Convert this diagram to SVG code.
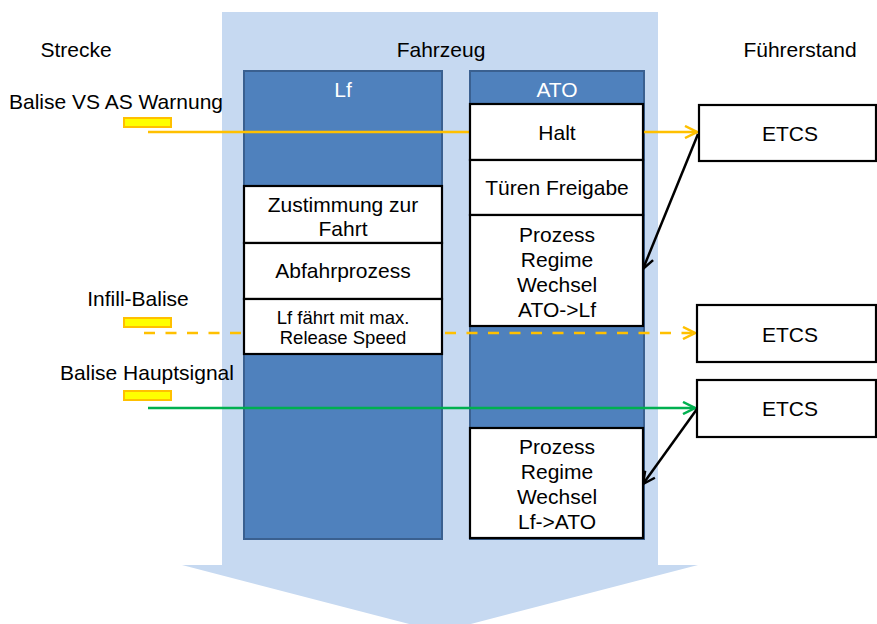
<svg xmlns="http://www.w3.org/2000/svg" width="877" height="624" viewBox="0 0 877 624">
<style>
text{font-family:"Liberation Sans",Arial,sans-serif;font-size:21px;fill:#000}
.c{text-anchor:middle}
.w{fill:#fff}
.s{font-size:18.5px}
.col{fill:#4F81BD;stroke:#3A6090;stroke-width:2}
.box{fill:#fff;stroke:#000;stroke-width:2.2}
.bal{fill:#FFFF00;stroke:#FFC000;stroke-width:2}
.or{stroke:#FFC000;stroke-width:2.5;fill:none}
.gr{stroke:#00B050;stroke-width:2.5;fill:none}
.bk{stroke:#000;stroke-width:2.5;fill:none}
</style>
<defs>
<marker id="ao" viewBox="0 0 14 14" refX="13" refY="7" markerWidth="14" markerHeight="14" markerUnits="userSpaceOnUse" orient="auto"><path d="M1,1 L13,7 L1,13" fill="none" stroke="#FFC000" stroke-width="2.5"/></marker>
<marker id="ag" viewBox="0 0 14 14" refX="13" refY="7" markerWidth="14" markerHeight="14" markerUnits="userSpaceOnUse" orient="auto"><path d="M1,1 L13,7 L1,13" fill="none" stroke="#00B050" stroke-width="2.5"/></marker>
<marker id="ab" viewBox="0 0 14 14" refX="13" refY="7" markerWidth="14" markerHeight="14" markerUnits="userSpaceOnUse" orient="auto"><path d="M1,1 L13,7 L1,13" fill="none" stroke="#000" stroke-width="2.5"/></marker>
</defs>
<g id="background">
<path d="M222,12 H658 V565 H698 L440,632 L182,565 H222 Z" fill="#C6D9F1"/>
</g>
<g id="labels">
<text x="76" y="57" class="c">Strecke</text>
<text x="441" y="57" class="c">Fahrzeug</text>
<text x="800" y="57" class="c">Führerstand</text>
<text x="116" y="109" class="c">Balise VS AS Warnung</text>
<text x="138" y="306" class="c">Infill-Balise</text>
<text x="147" y="380" class="c">Balise Hauptsignal</text>
</g>
<g id="balises">
<rect class="bal" x="124" y="118" width="47" height="9"/>
<rect class="bal" x="124" y="318" width="47" height="9"/>
<rect class="bal" x="124" y="391" width="47" height="9"/>
</g>
<g id="col-lf">
<rect class="col" x="244" y="71" width="198" height="468"/>
<text x="343" y="97" class="c w">Lf</text>
</g>
<g id="col-ato">
<rect class="col" x="470" y="71" width="174" height="468"/>
<text x="557" y="97" class="c w">ATO</text>
</g>
<g id="connectors">
<line class="or" x1="148" y1="132" x2="697" y2="132" marker-end="url(#ao)"/>
<line class="or" x1="144" y1="333" x2="695" y2="333" stroke-dasharray="11,10.5" marker-end="url(#ao)"/>
<line class="gr" x1="148" y1="408" x2="695" y2="408" marker-end="url(#ag)"/>
<line class="bk" x1="698" y1="134" x2="643" y2="269" marker-end="url(#ab)"/>
<line class="bk" x1="697" y1="409" x2="643" y2="484" marker-end="url(#ab)"/>
</g>
<g id="zustimmung">
<rect class="box" x="244" y="186" width="198" height="57"/>
<text x="343" y="212" class="c">Zustimmung zur</text>
<text x="343" y="236" class="c">Fahrt</text>
</g>
<g id="abfahrprozess">
<rect class="box" x="244" y="243" width="198" height="56"/>
<text x="343" y="278" class="c">Abfahrprozess</text>
</g>
<g id="lf-faehrt">
<rect class="box" x="244" y="299" width="198" height="55"/>
<text x="343" y="324" class="c s">Lf fährt mit max.</text>
<text x="343" y="344" class="c s">Release Speed</text>
</g>
<g id="halt">
<rect class="box" x="470" y="104" width="173" height="56"/>
<text x="557" y="140" class="c">Halt</text>
</g>
<g id="tueren">
<rect class="box" x="470" y="160" width="173" height="55"/>
<text x="557" y="195" class="c">Türen Freigabe</text>
</g>
<g id="wechsel-ato-lf">
<rect class="box" x="470" y="215" width="173" height="111"/>
<text x="557" y="242" class="c">Prozess</text>
<text x="557" y="267" class="c">Regime</text>
<text x="557" y="292" class="c">Wechsel</text>
<text x="557" y="317" class="c">ATO-&gt;Lf</text>
</g>
<g id="wechsel-lf-ato">
<rect class="box" x="470" y="428" width="173" height="110"/>
<text x="557" y="454" class="c">Prozess</text>
<text x="557" y="479" class="c">Regime</text>
<text x="557" y="504" class="c">Wechsel</text>
<text x="557" y="529" class="c">Lf-&gt;ATO</text>
</g>
<g id="etcs1">
<rect class="box" x="699" y="105" width="177" height="56"/>
<text x="790" y="141" class="c">ETCS</text>
</g>
<g id="etcs2">
<rect class="box" x="697" y="305" width="179" height="57"/>
<text x="790" y="342" class="c">ETCS</text>
</g>
<g id="etcs3">
<rect class="box" x="697" y="380" width="179" height="57"/>
<text x="790" y="416" class="c">ETCS</text>
</g>
</svg>
